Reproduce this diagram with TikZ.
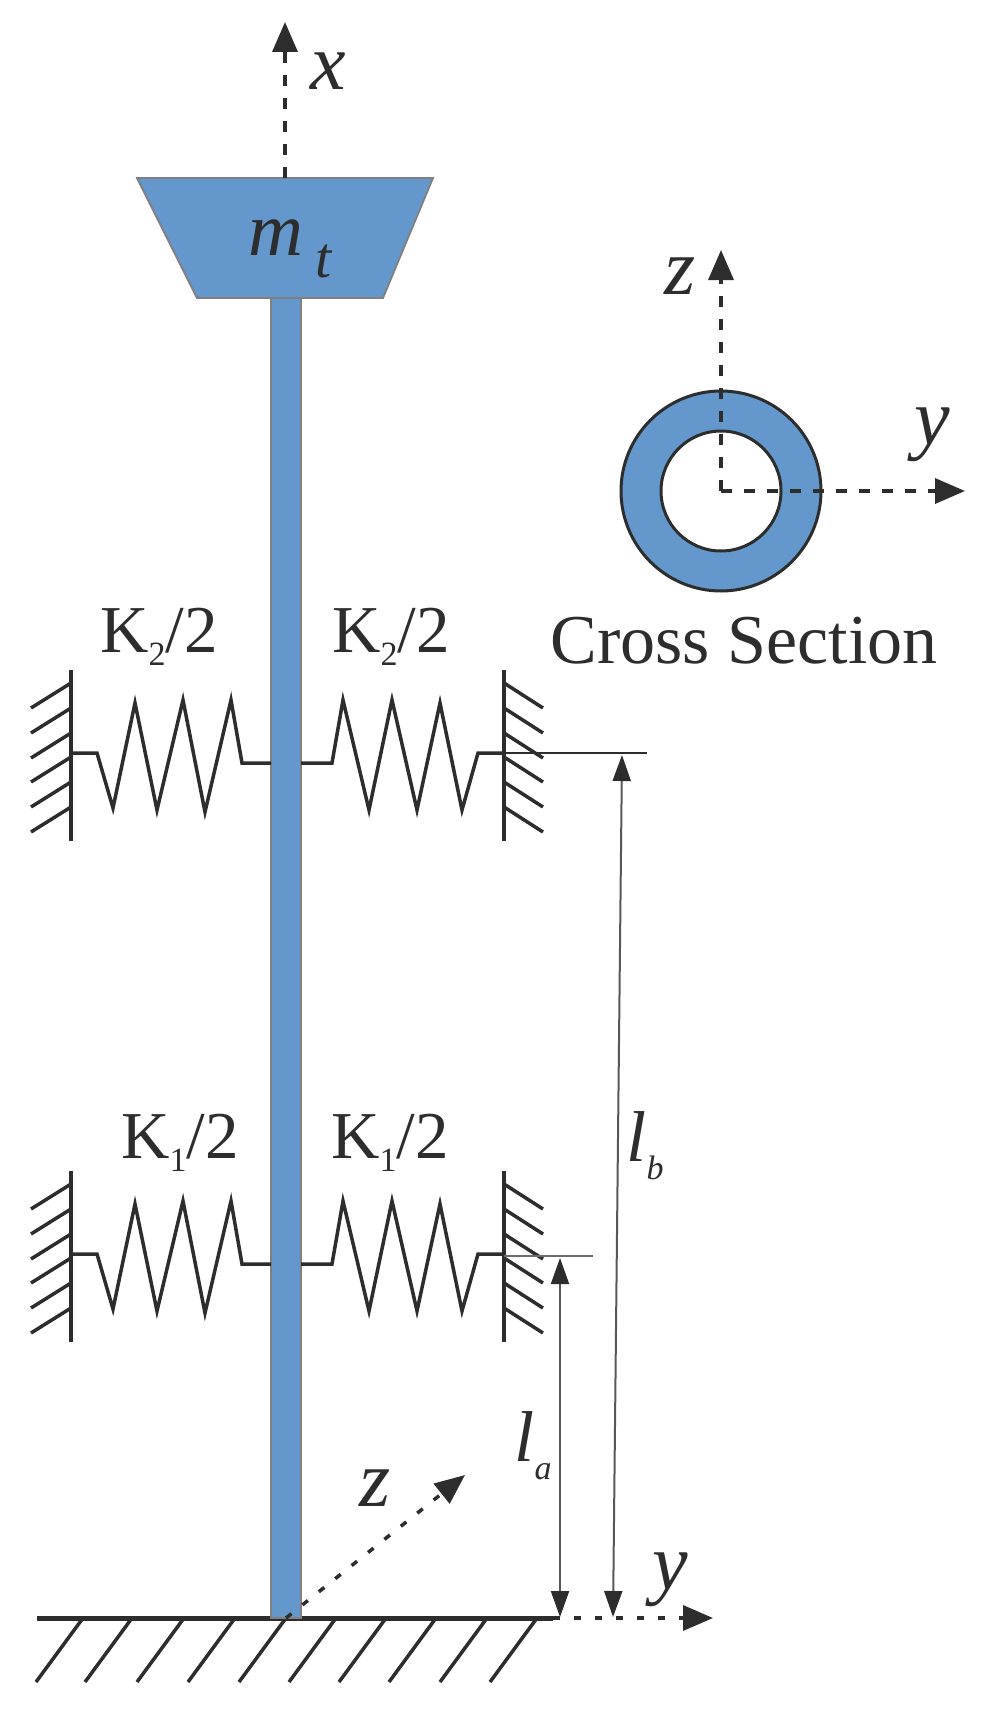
\documentclass[tikz,border=0pt]{standalone}
\usepackage{fontspec}
\setmainfont{Liberation Serif}
\usetikzlibrary{shapes.geometric,arrows.meta}
\definecolor{beamblue}{RGB}{100,152,204}
\definecolor{inkgray}{RGB}{45,45,45}
\newcommand{\subtext}[2]{\raisebox{#1}{\fontsize{34pt}{34pt}\selectfont #2}}
\tikzset{
    wall/.style = {line width = 4pt, color = inkgray},
    hatch/.style = {line width = 3.5pt, color = inkgray},
    spring/.style = {line width = 3.5pt, color = inkgray, line join = miter},
    dimline/.style = {line width = 2pt, color = inkgray!80, {Triangle[length = 26pt, width = 18pt, color = inkgray]}-{Triangle[length = 26pt, width = 18pt, color = inkgray]}},
    axis/.style = {line width = 3.5pt, color = inkgray, dash pattern = on 11pt off 12pt, -{Triangle[length = 30pt, width = 25pt]}},
    groundaxis/.style = {axis, dash pattern = on 7pt off 14pt},
    beam/.style = {fill = beamblue, draw = black!50, line width = 1.8pt, inner sep = 0pt},
    axislabel/.style = {font = \fontsize{80pt}{80pt}\selectfont\itshape, text = inkgray, inner sep = 0pt},
    lenlabel/.style = {font = \fontsize{72pt}{72pt}\selectfont\itshape, text = inkgray, inner sep = 0pt},
    springlabel/.style = {font = \fontsize{67pt}{67pt}\selectfont, text = inkgray, inner sep = 0pt}
}

\begin{document}
\begin{tikzpicture}[x = 1pt, y = -1pt]
    \useasboundingbox (0,0) rectangle (987,1715);

    \coordinate (groundleft) at (37,1618);
    \coordinate (groundright) at (553,1618);
    \draw[wall, line width = 5pt] (groundleft) -- (groundright);
    \foreach \hx in {83,132,184,235,286,336,386,436,487,537}
        \draw[hatch] (\hx,1618) -- (\hx-47,1682);

    \node[beam, rectangle, minimum width = 30pt, minimum height = 1320pt] (column) at (286,958) {};
    \coordinate (masstop) at (285,178);
    \draw[beam] (137,178) -- (433,178) -- (383,298) -- (197,298) -- cycle;
    \node[axislabel, font = \fontsize{76pt}{76pt}\selectfont\itshape] (masslabel) at (290,249) {m\,\raisebox{-.28em}{\fontsize{58pt}{58pt}\selectfont t}};

    \coordinate (xtip) at (285,22);
    \draw[axis] (masstop) -- (xtip);
    \node[axislabel] (xlabel) at (328,71) {x};

    \foreach \yy in {0,501} {
        \draw[wall] (71,670+\yy) -- (71,841+\yy);
        \draw[wall] (504,670+\yy) -- (504,841+\yy);
        \foreach \hy in {683,708,733,757,782,807} {
            \draw[hatch] (71,\hy+\yy) -- (31,\hy+25+\yy);
            \draw[hatch] (504,\hy+\yy) -- (543,\hy+25+\yy);
        }
        \draw[spring] (71,753+\yy) -- (97,753+\yy) -- (113,808+\yy) -- (135,703+\yy) -- (157,810+\yy) -- (183,700+\yy) -- (205,812+\yy) -- (231,700+\yy) -- (242,763+\yy) -- (271,763+\yy);
        \draw[spring] (301,763+\yy) -- (332,763+\yy) -- (343,700+\yy) -- (369,810+\yy) -- (392,700+\yy) -- (417,810+\yy) -- (440,703+\yy) -- (462,810+\yy) -- (478,753+\yy) -- (504,753+\yy);
    }

    \node[springlabel] (ktwoleft) at (159,637) {K\subtext{-.2em}{2}/2};
    \node[springlabel] (ktworight) at (391,637) {K\subtext{-.2em}{2}/2};
    \node[springlabel] (koneleft) at (180,1143) {K\subtext{-.2em}{1}/2};
    \node[springlabel] (koneright) at (390,1143) {K\subtext{-.2em}{1}/2};

    \coordinate (upperwall) at (504,753);
    \coordinate (upperend) at (647,753);
    \coordinate (lowerwall) at (504,1256);
    \coordinate (lowerend) at (593,1256);
    \draw[line width = 2pt, color = inkgray] (upperwall) -- (upperend);
    \draw[line width = 2pt, color = inkgray!70] (lowerwall) -- (lowerend);
    \coordinate (ltop) at (622,755);
    \coordinate (lbot) at (613,1617);
    \draw[dimline] (ltop) -- (lbot);
    \coordinate (atop) at (560,1258);
    \coordinate (abot) at (560,1617);
    \draw[dimline] (atop) -- (abot);
    \node[lenlabel] (lblabel) at (645,1146) {l\subtext{-.25em}{b}};
    \node[lenlabel] (lalabel) at (533,1446) {l\subtext{-.25em}{a}};

    \coordinate (ytip) at (713,1618);
    \draw[groundaxis] (groundright) -- (ytip);
    \coordinate (zbase) at (286,1618);
    \coordinate (ztip) at (465,1475);
    \draw[groundaxis] (zbase) -- (ztip);
    \node[axislabel] (ylabel) at (670,1580) {y};
    \node[axislabel] (zlabel) at (375,1488) {z};

    \node[beam, circle, minimum size = 200pt, draw = inkgray, line width = 3pt] (ring) at (721,491) {};
    \node[circle, fill = white, draw = inkgray, line width = 3pt, minimum size = 120pt, inner sep = 0pt] (hole) at (721,491) {};
    \coordinate (sectionz) at (721,250);
    \coordinate (sectiony) at (965,491);
    \draw[axis] (hole.center) -- (sectionz);
    \draw[axis] (hole.center) -- (sectiony);
    \node[axislabel] (sectionzlabel) at (680,276) {z};
    \node[axislabel] (sectionylabel) at (932,435) {y};
    \node[font = \fontsize{70pt}{70pt}\selectfont, text = inkgray, inner sep = 0pt] (sectionlabel) at (744,641) {Cross Section};
\end{tikzpicture}
\end{document}
